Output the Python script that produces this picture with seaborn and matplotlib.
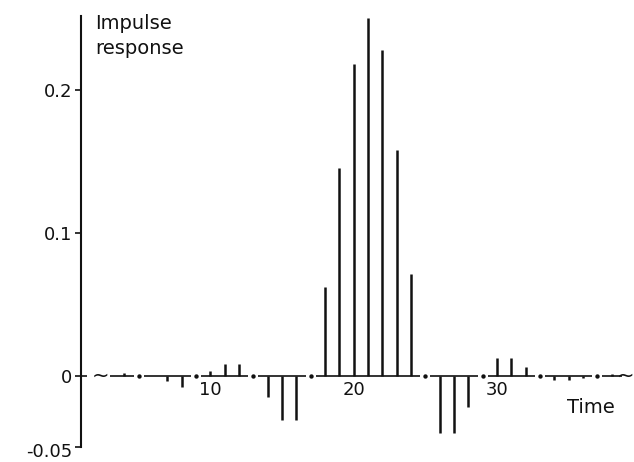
import numpy as np
import pandas as pd
import matplotlib
matplotlib.use("Agg")
import matplotlib.pyplot as plt
from matplotlib.transforms import ScaledTranslation
import seaborn as sns

# ==================== data ====================
lags = list(range(1, 39))
response = [0.0, 0.0, 0.0, 0.002, 0.0, 0.0, -0.004, -0.008, 0.0, 0.003,
            0.008, 0.008, 0.0, -0.015, -0.031, -0.031, 0.0, 0.062, 0.145, 0.218,
            0.250, 0.228, 0.158, 0.071, 0.0, -0.040, -0.040, -0.022, 0.0, 0.012,
            0.012, 0.006, 0.0, -0.003, -0.003, -0.002, 0.0, 0.001]

# zero markers drawn as dots on the baseline
dot_lags = [5, 9, 13, 17, 25, 29, 33, 37]

# pieces of the zero line (gaps around the dots)
seg_start = [1.0, 3.0, 5.35, 9.35, 13.35, 17.35, 25.35, 29.35, 33.35, 37.35]
seg_end = [1.4, 4.65, 8.65, 12.65, 16.65, 24.65, 28.65, 32.65, 36.65, 38.7]

x_tick_pos = [10, 20, 30]
x_tick_lab = ["10", "20", "30"]
y_tick_pos = [-0.05, 0, 0.1, 0.2]
y_tick_lab = ["-0.05", "0", "0.1", "0.2"]

INK = "#111111"

sns.set_style("white")
plt.rcParams["font.family"] = ["DejaVu Sans"]
plt.rcParams["axes.unicode_minus"] = False

df = pd.DataFrame({"lag": lags, "response": response})
stems = df[df["response"] != 0]
dots = pd.DataFrame({"lag": dot_lags, "response": [0.0] * len(dot_lags)})

fig = plt.figure(figsize=(6.34, 4.62), dpi=100)
ax = fig.add_axes([0.1278, 0.0325, 0.869, 0.9329])

# stems
ax.vlines(stems["lag"], 0, stems["response"], color=INK, linewidth=1.8)
# broken zero line + dots
ax.hlines([0] * len(seg_start), seg_start, seg_end, color=INK, linewidth=1.2)
sns.scatterplot(data=dots, x="lag", y="response", ax=ax, color=INK,
                s=10, edgecolor=INK, linewidth=0, legend=False)

# little tildes at both ends of the baseline
ax.text(2.3, 0.0, "~", ha="center", va="center", fontsize=15, color=INK)
ax.text(39.55, 0.0, "~", ha="right", va="center", fontsize=15, color=INK)

ax.set_xlim(0.97, 39.42)
ax.set_ylim(-0.05, 0.2515)

# axis styling: only the left spine
for side in ["top", "right", "bottom"]:
    ax.spines[side].set_visible(False)
ax.spines["left"].set_color(INK)
ax.spines["left"].set_linewidth(1.5)
ax.set_xticks([])
ax.set_yticks(y_tick_pos)
ax.set_yticklabels(y_tick_lab, fontsize=13, color=INK)
ax.tick_params(axis="y", left=True, direction="out", length=4.5, width=1.2,
               pad=2, color=INK)
ax.set_xlabel("")
ax.set_ylabel("")

# the bottom label hangs a bit under its tick
lab0 = ax.get_yticklabels()[0]
lab0.set_transform(lab0.get_transform() + ScaledTranslation(0, -2.5 / 72, fig.dpi_scale_trans))

# time labels sit just under the zero line
for pos, lab in zip(x_tick_pos, x_tick_lab):
    ax.text(pos, -0.0098, lab, ha="center", va="center", fontsize=13, color=INK)

ax.text(36.56, -0.0225, "Time", ha="center", va="center", fontsize=14, color=INK)
ax.text(1.95, 0.2375, "Impulse\nresponse", ha="left", va="center", fontsize=14,
        color=INK, linespacing=1.45)

fig.savefig("out.png", dpi=100)
plt.close(fig)
